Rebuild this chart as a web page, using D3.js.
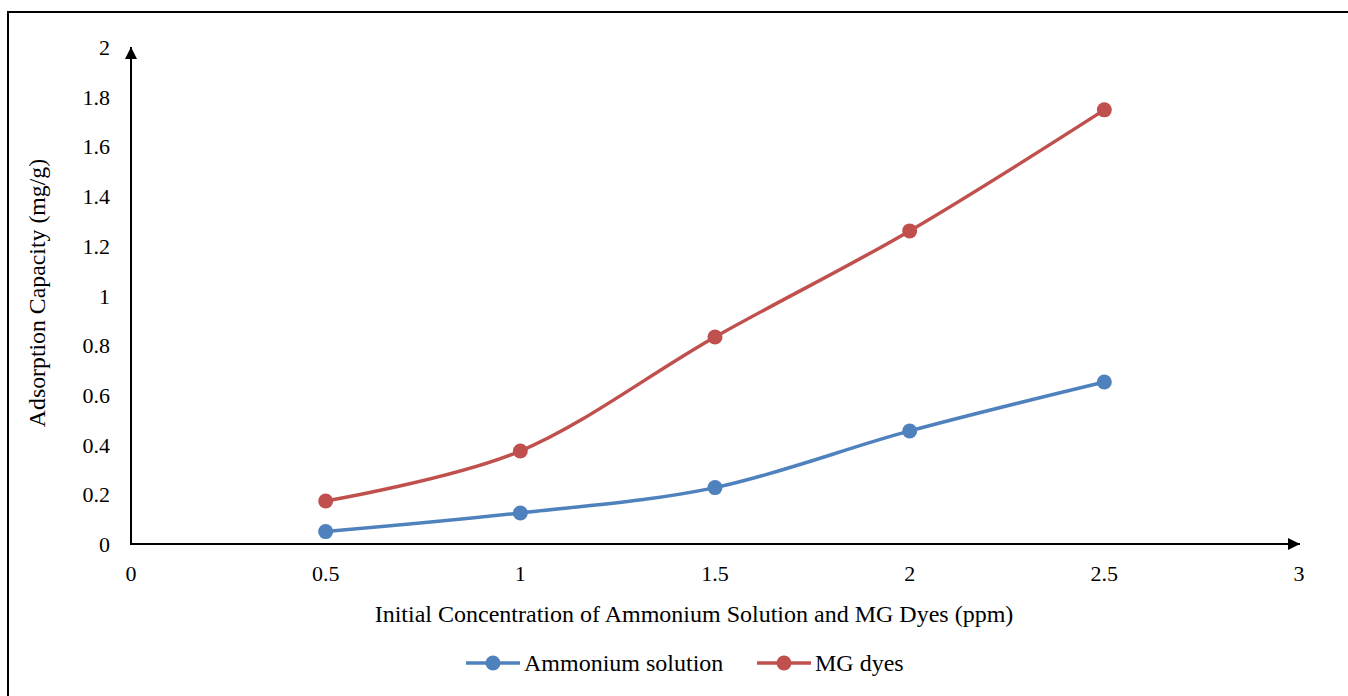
<!DOCTYPE html>
<html>
<head>
<meta charset="utf-8">
<script src="https://cdn.jsdelivr.net/npm/d3@7"></script>
<style>
  html, body { margin: 0; padding: 0; background: #fff; }
  svg { display: block; font-family: "Liberation Serif", "Times New Roman", serif; }
</style>
</head>
<body>
<svg id="chart" width="1348" height="696"></svg>
<script>
// Initial concentration (ppm)
const concentrations = [0.5, 1, 1.5, 2, 2.5];
// Adsorption capacity (mg/g)
const ammoniumValues = [0.05, 0.125, 0.227, 0.455, 0.652];
const mgDyeValues = [0.173, 0.374, 0.833, 1.26, 1.747];
const xTicks = [0, 0.5, 1, 1.5, 2, 2.5, 3];
const yTicks = [0, 0.2, 0.4, 0.6, 0.8, 1, 1.2, 1.4, 1.6, 1.8, 2];
const seriesNames = ["Ammonium solution", "MG dyes"];
const seriesColors = ["#4F81BD", "#C0504D"];

const svg = d3.select("#chart");

// outer frame
svg.append("path")
  .attr("d", "M8,696 L8,12 L1348,12")
  .attr("fill", "none").attr("stroke", "#000").attr("stroke-width", 2);

const x = d3.scaleLinear().domain([0, 3]).range([131, 1299]);
const y = d3.scaleLinear().domain([0, 2]).range([544, 47]);

const defs = svg.append("defs");
defs.append("marker")
  .attr("id", "arrow").attr("viewBox", "0 0 10 10")
  .attr("refX", 10).attr("refY", 5)
  .attr("markerWidth", 16).attr("markerHeight", 12)
  .attr("markerUnits", "userSpaceOnUse")
  .attr("orient", "auto")
  .append("path").attr("d", "M0,0 L10,5 L0,10 Z").attr("fill", "#000");

// axes
svg.append("line")
  .attr("x1", x(0)).attr("y1", y(0)).attr("x2", x(3) + 1).attr("y2", y(0))
  .attr("stroke", "#000").attr("stroke-width", 2).attr("marker-end", "url(#arrow)");
svg.append("line")
  .attr("x1", x(0)).attr("y1", y(0) + 1).attr("x2", x(0)).attr("y2", y(2))
  .attr("stroke", "#000").attr("stroke-width", 2).attr("marker-end", "url(#arrow)");

// tick labels
svg.append("g").selectAll("text").data(xTicks).join("text")
  .attr("x", d => x(d)).attr("y", 581)
  .attr("text-anchor", "middle").attr("font-size", 22).attr("fill", "#000")
  .text(d => d);
svg.append("g").selectAll("text").data(yTicks).join("text")
  .attr("x", 110).attr("y", d => y(d) + 8)
  .attr("text-anchor", "end").attr("font-size", 22).attr("fill", "#000")
  .text(d => d);

// axis titles
svg.append("text")
  .attr("x", 694).attr("y", 622)
  .attr("text-anchor", "middle").attr("font-size", 24).attr("fill", "#000")
  .text("Initial Concentration of Ammonium Solution and MG Dyes (ppm)");
svg.append("text")
  .attr("transform", "translate(45,293) rotate(-90)")
  .attr("text-anchor", "middle").attr("font-size", 23.8).attr("fill", "#000")
  .text("Adsorption Capacity (mg/g)");

// series
const series = [ammoniumValues, mgDyeValues];
const line = d3.line()
  .x((d, i) => x(concentrations[i]))
  .y(d => y(d))
  .curve(d3.curveCatmullRom.alpha(0));

series.forEach((vals, s) => {
  const g = svg.append("g");
  g.append("path").datum(vals)
    .attr("d", line)
    .attr("fill", "none").attr("stroke", seriesColors[s])
    .attr("stroke-width", 3.5).attr("stroke-linecap", "round");
  g.selectAll("circle").data(vals).join("circle")
    .attr("cx", (d, i) => x(concentrations[i]))
    .attr("cy", d => y(d))
    .attr("r", 7.5).attr("fill", seriesColors[s]);
});

// legend
const legendItems = [{ x0: 466, tx: 524 }, { x0: 757, tx: 815 }];
legendItems.forEach((it, s) => {
  const g = svg.append("g");
  g.append("line")
    .attr("x1", it.x0).attr("x2", it.x0 + 54).attr("y1", 663).attr("y2", 663)
    .attr("stroke", seriesColors[s]).attr("stroke-width", 3.5);
  g.append("circle").attr("cx", it.x0 + 27).attr("cy", 663).attr("r", 7.5)
    .attr("fill", seriesColors[s]);
  g.append("text").attr("x", it.tx).attr("y", 671)
    .attr("font-size", 24).attr("fill", "#000")
    .text(seriesNames[s]);
});
</script>
</body>
</html>
